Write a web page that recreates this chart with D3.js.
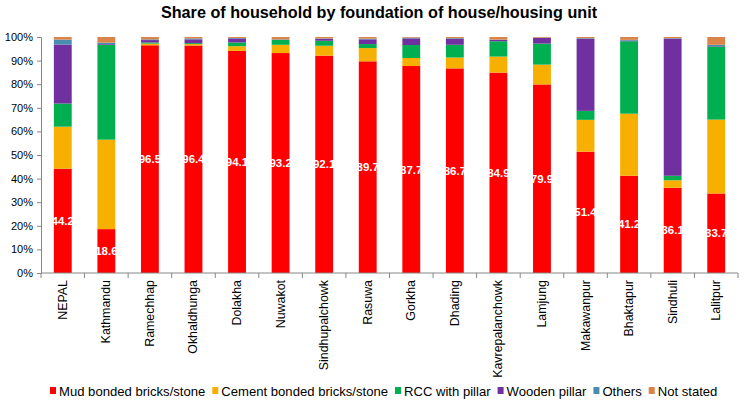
<!DOCTYPE html>
<html>
<head>
<meta charset="utf-8">
<script src="https://cdn.jsdelivr.net/npm/d3@7/dist/d3.min.js"></script>
<style>
  body { margin: 0; background: #fff; }
  svg { display: block; font-family: Arial, "Liberation Sans", sans-serif; }
</style>
</head>
<body>
<svg id="chart" width="744" height="405"></svg>
<script>
// districts, left to right
const districts = ['NEPAL', 'Kathmandu', 'Ramechhap', 'Okhaldhunga', 'Dolakha', 'Nuwakot',
    'Sindhupalchowk', 'Rasuwa', 'Gorkha', 'Dhading', 'Kavrepalanchowk', 'Lamjung',
    'Makawanpur', 'Bhaktapur', 'Sindhuli', 'Lalitpur'];

const seriesNames = ['Mud bonded bricks/stone', 'Cement bonded bricks/stone', 'RCC with pillar',
    'Wooden pillar', 'Others', 'Not stated'];
const seriesColors = ['#ff0000', '#f7b000', '#00b050', '#7030a0', '#4a8db0', '#da8449'];

// percent values per series, same order as districts
const mud      = [44.2, 18.6, 96.5, 96.4, 94.1, 93.2, 92.1, 89.7, 87.7, 86.7, 84.9, 79.9, 51.4, 41.2, 36.1, 33.7];
const cement   = [17.8, 37.9,  0.7,  0.6,  2.0,  3.5,  4.2,  5.6,  3.4,  4.6,  6.8,  8.4, 13.5, 26.3,  3.2, 31.3];
const rcc      = [ 9.8, 40.2,  0.5,  0.4,  1.6,  2.1,  2.1,  1.7,  5.5,  5.4,  6.5,  8.9,  3.8, 30.7,  1.9, 31.0];
const wooden   = [25.0,  0.3,  1.0,  1.6,  1.7,  0.1,  0.8,  2.0,  2.8,  2.5,  0.6,  2.4, 30.5,  0.3, 58.1,  0.2];
const others   = [ 2.1,  0.6,  0.3,  0.4,  0.2,  0.1,  0.2,  0.3,  0.3,  0.3,  0.1,  0.1,  0.3,  0.3,  0.2,  0.5];
const notStated= [ 1.1,  2.4,  1.0,  0.6,  0.4,  1.0,  0.6,  0.7,  0.3,  0.5,  1.1,  0.3,  0.5,  1.2,  0.5,  3.3];

const yTicks = [0, 10, 20, 30, 40, 50, 60, 70, 80, 90, 100];

const allSeries = [mud, cement, rcc, wooden, others, notStated];
const rows = districts.map((name, i) => {
    const r = { name };
    seriesNames.forEach((s, j) => { r[s] = allSeries[j][i]; });
    return r;
});

const svg = d3.select('#chart');
const plotLeft = 41, plotRight = 738, plotTop = 37, plotBottom = 273;

const x = d3.scaleBand().domain(districts).range([plotLeft, plotRight])
    .paddingInner(0.59).paddingOuter(0.295);
const y = d3.scaleLinear().domain([0, 100]).range([plotBottom, plotTop]);
const color = d3.scaleOrdinal().domain(seriesNames).range(seriesColors);

const stacked = d3.stack().keys(seriesNames)(rows);

// title
svg.append('text')
    .attr('x', 379).attr('y', 18)
    .attr('text-anchor', 'middle')
    .attr('font-size', 16.2).attr('font-weight', 'bold')
    .text('Share of household by foundation of house/housing unit');

// bars
const layers = svg.append('g').selectAll('g').data(stacked).join('g')
    .attr('fill', d => color(d.key));

layers.selectAll('rect').data(d => d).join('rect')
    .attr('x', d => x(d.data.name))
    .attr('width', x.bandwidth())
    .attr('y', d => y(d[1]))
    .attr('height', d => y(d[0]) - y(d[1]));

// white labels on the mud bonded segment
svg.append('g').selectAll('text').data(stacked[0]).join('text')
    .attr('x', d => x(d.data.name) + x.bandwidth() / 2)
    .attr('y', d => y((d[0] + d[1]) / 2) + 4)
    .attr('text-anchor', 'middle')
    .attr('font-size', 11.5).attr('font-weight', 'bold')
    .attr('fill', '#fff')
    .text(d => d3.format('.1f')(d[1] - d[0]));

// y axis
const yAxis = svg.append('g')
    .attr('transform', `translate(${plotLeft},0)`)
    .call(d3.axisLeft(y).tickValues(yTicks).tickSize(4).tickPadding(4).tickFormat(d => d + '%'));
yAxis.selectAll('path, line').attr('stroke', '#868686');
yAxis.selectAll('text').attr('font-size', 11).attr('fill', '#000').attr('font-family', 'Arial, "Liberation Sans", sans-serif');

// x axis: line and ticks between categories
const xg = svg.append('g');
xg.append('line')
    .attr('x1', plotLeft).attr('x2', plotRight)
    .attr('y1', plotBottom).attr('y2', plotBottom)
    .attr('stroke', '#868686');
const bounds = districts.map(d => x(d) - x.step() * x.paddingInner() / 2).concat([plotRight]);
xg.selectAll('line.tick').data(bounds).join('line')
    .attr('class', 'tick')
    .attr('x1', d => d).attr('x2', d => d)
    .attr('y1', plotBottom).attr('y2', plotBottom + 5)
    .attr('stroke', '#868686');

xg.selectAll('text').data(districts).join('text')
    .attr('transform', d => `translate(${x(d) + x.bandwidth() / 2 + 4},280) rotate(-90)`)
    .attr('text-anchor', 'end')
    .attr('font-size', 12.4)
    .text(d => d);

// legend
const legend = svg.append('g');
let lx = 50;
seriesNames.forEach(s => {
    const g = legend.append('g');
    g.append('rect')
        .attr('x', lx).attr('y', 387)
        .attr('width', 6).attr('height', 7)
        .attr('fill', color(s));
    const t = g.append('text')
        .attr('x', lx + 9).attr('y', 395.5)
        .attr('font-size', 13.1)
        .text(s);
    lx += 9 + t.node().getComputedTextLength() + 7;
});
</script>
</body>
</html>
